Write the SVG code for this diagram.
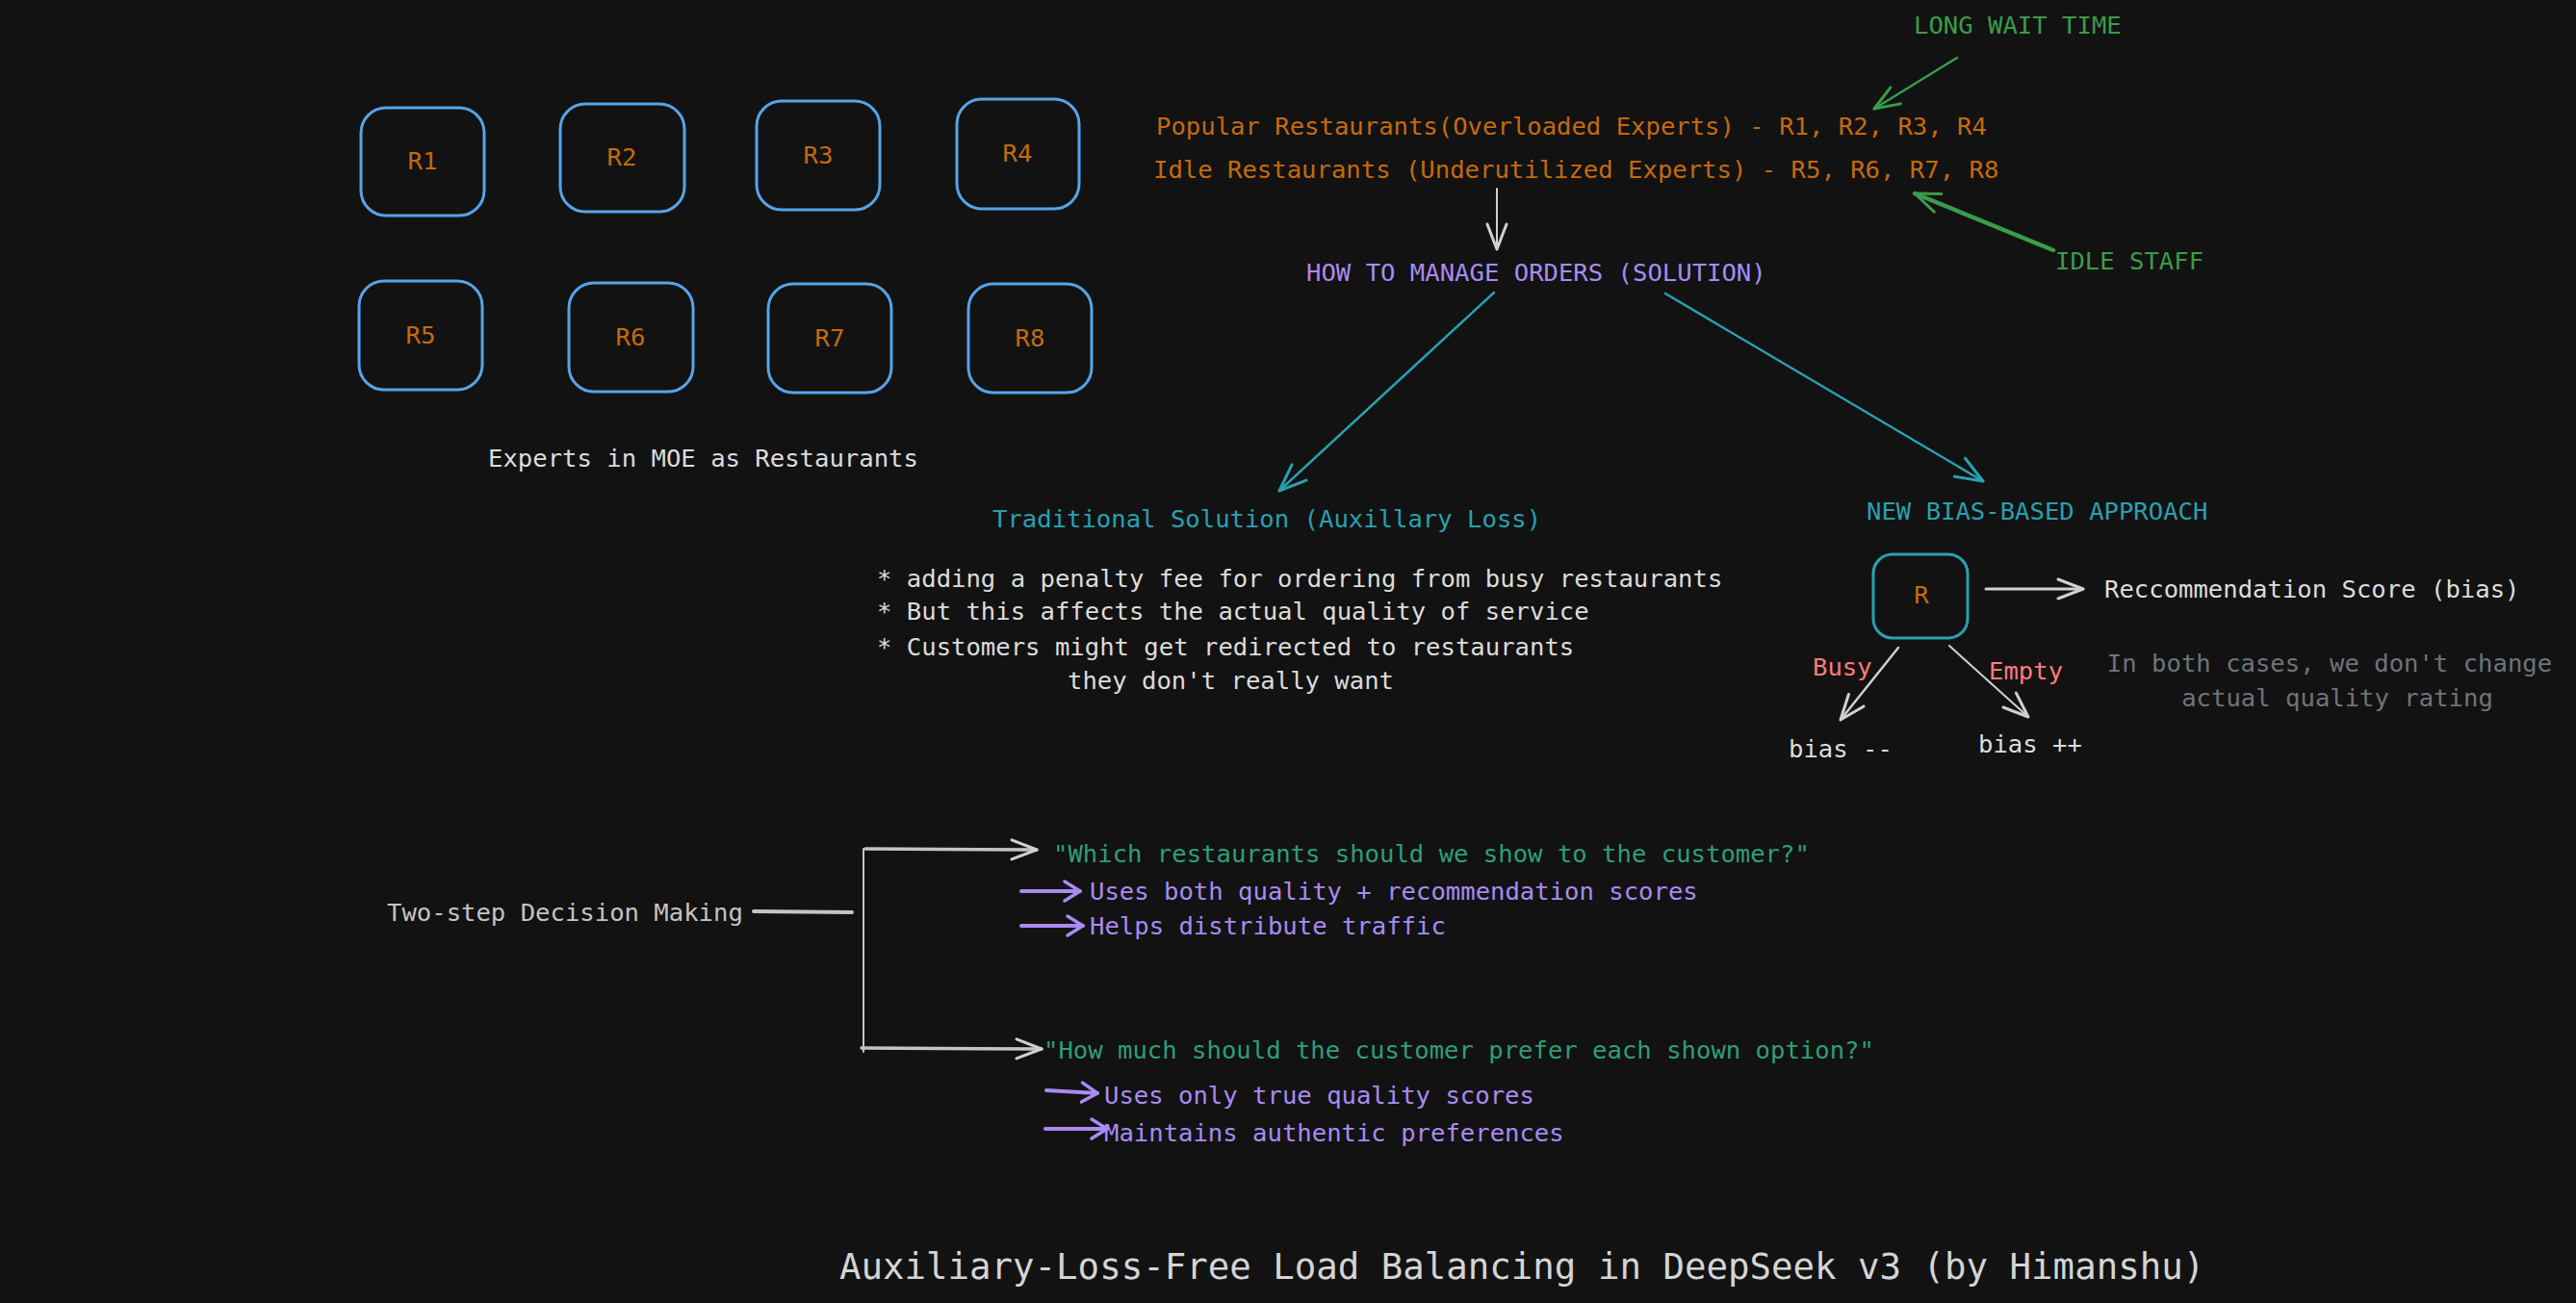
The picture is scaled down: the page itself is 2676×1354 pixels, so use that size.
<svg xmlns="http://www.w3.org/2000/svg" width="2676" height="1354" viewBox="0 0 2676 1354">
<defs>
<style>
text{font-family:"DejaVu Sans Mono","Liberation Mono",monospace;font-size:25.6px}
.or{fill:#c46a0e}
.wh{fill:#dcdcdc}
.gy{fill:#6f747b}
.gn{fill:#3a9c4a}
.pu{fill:#a98bf2}
.te{fill:#2aa0b0}
.rd{fill:#ff7b7b}
.qg{fill:#2f9e79}
.box{fill:none;stroke:#55a4e8;stroke-width:3}
.tbox{fill:none;stroke:#2aa0b0;stroke-width:3}
.c{fill:none;stroke-linecap:round}
</style>
<marker id="aw" markerUnits="userSpaceOnUse" markerWidth="40" markerHeight="40" viewBox="-35 -20 40 40" refX="0" refY="0" orient="auto"><path d="M-26,-10 L0,0 L-26,10" fill="none" stroke="#d0d0d0" stroke-width="3" stroke-linecap="round" stroke-linejoin="round"/></marker>
<marker id="ag" markerUnits="userSpaceOnUse" markerWidth="40" markerHeight="40" viewBox="-35 -20 40 40" refX="0" refY="0" orient="auto"><path d="M-26,-10 L0,0 L-26,10" fill="none" stroke="#3a9c4a" stroke-width="3" stroke-linecap="round" stroke-linejoin="round"/></marker>
<marker id="at" markerUnits="userSpaceOnUse" markerWidth="40" markerHeight="40" viewBox="-35 -20 40 40" refX="0" refY="0" orient="auto"><path d="M-28,-11 L0,0 L-28,11" fill="none" stroke="#2aa0b0" stroke-width="3" stroke-linecap="round" stroke-linejoin="round"/></marker>
<marker id="ap" markerUnits="userSpaceOnUse" markerWidth="40" markerHeight="40" viewBox="-35 -20 40 40" refX="0" refY="0" orient="auto"><path d="M-16,-10 L0,0 L-16,10" fill="none" stroke="#a98bf2" stroke-width="3.5" stroke-linecap="round" stroke-linejoin="round"/></marker>
</defs>
<rect width="2676" height="1354" fill="#121212"/>

<g id="R1"><rect class="box" x="375" y="112" width="128" height="112" rx="26"/><text class="or" x="439" y="176" text-anchor="middle">R1</text></g>
<g id="R2"><rect class="box" x="582" y="108" width="129" height="112" rx="26"/><text class="or" x="646" y="172" text-anchor="middle">R2</text></g>
<g id="R3"><rect class="box" x="786" y="105" width="128" height="113" rx="26"/><text class="or" x="850" y="170" text-anchor="middle">R3</text></g>
<g id="R4"><rect class="box" x="994" y="103" width="127" height="114" rx="26"/><text class="or" x="1057" y="168" text-anchor="middle">R4</text></g>
<g id="R5"><rect class="box" x="373" y="292" width="128" height="113" rx="26"/><text class="or" x="437" y="357" text-anchor="middle">R5</text></g>
<g id="R6"><rect class="box" x="591" y="294" width="129" height="113" rx="26"/><text class="or" x="655" y="359" text-anchor="middle">R6</text></g>
<g id="R7"><rect class="box" x="798" y="295" width="128" height="113" rx="26"/><text class="or" x="862" y="360" text-anchor="middle">R7</text></g>
<g id="R8"><rect class="box" x="1006" y="295" width="128" height="113" rx="26"/><text class="or" x="1070" y="360" text-anchor="middle">R8</text></g>

<g id="experts-label"><text class="wh" x="507" y="485">Experts in MOE as Restaurants</text></g>

<g id="long-wait"><text class="gn" x="1988" y="35">LONG WAIT TIME</text></g>
<g id="restaurants-list">
<text class="or" x="1201" y="140">Popular Restaurants(Overloaded Experts) - R1, R2, R3, R4</text>
<text class="or" x="1198" y="185">Idle Restaurants (Underutilized Experts) - R5, R6, R7, R8</text>
</g>
<g id="idle-staff"><text class="gn" x="2135" y="280">IDLE STAFF</text></g>
<g id="how-to"><text class="pu" x="1357" y="292">HOW TO MANAGE ORDERS (SOLUTION)</text></g>

<g id="traditional"><text class="te" x="1031" y="548">Traditional Solution (Auxillary Loss)</text></g>
<g id="traditional-notes">
<text class="wh" x="911" y="610">* adding a penalty fee for ordering from busy restaurants</text>
<text class="wh" x="911" y="644">* But this affects the actual quality of service</text>
<text class="wh" x="911" y="681">* Customers might get redirected to restaurants</text>
<text class="wh" x="1109" y="716">they don't really want</text>
</g>

<g id="new-approach"><text class="te" x="1939" y="540">NEW BIAS-BASED APPROACH</text></g>
<g id="R"><rect class="tbox" x="1946" y="576" width="98" height="87" rx="20"/><text class="or" x="1996" y="627" text-anchor="middle">R</text></g>
<g id="rec-score"><text class="wh" x="2186" y="621">Reccommendation Score (bias)</text></g>
<g id="busy"><text class="rd" x="1883" y="702">Busy</text></g>
<g id="empty"><text class="rd" x="2066" y="706">Empty</text></g>
<g id="bias-minus"><text class="wh" x="1858" y="787">bias --</text></g>
<g id="bias-plus"><text class="wh" x="2055" y="782">bias ++</text></g>
<g id="both-cases">
<text class="gy" x="2420" y="698" text-anchor="middle">In both cases, we don't change</text>
<text class="gy" x="2428" y="734" text-anchor="middle">actual quality rating</text>
</g>

<g id="two-step"><text style="fill:#c4c4c4" x="402" y="957">Two-step Decision Making</text></g>
<g id="step1">
<text class="qg" x="1094" y="896">"Which restaurants should we show to the customer?"</text>
<text class="pu" x="1132" y="935">Uses both quality + recommendation scores</text>
<text class="pu" x="1132" y="971">Helps distribute traffic</text>
</g>
<g id="step2">
<text class="qg" x="1084" y="1100">"How much should the customer prefer each shown option?"</text>
<text class="pu" x="1147" y="1147">Uses only true quality scores</text>
<text class="pu" x="1147" y="1186">Maintains authentic preferences</text>
</g>

<g id="title"><text style="fill:#d4d4d4;font-size:37.4px" x="872" y="1329">Auxiliary-Loss-Free Load Balancing in DeepSeek v3 (by Himanshu)</text></g>

<g id="connectors">
<path class="c" d="M2033,60 L1947,113" stroke="#3a9c4a" stroke-width="2.5" marker-end="url(#ag)"/>
<path class="c" d="M2133,260 L1989,201" stroke="#3a9c4a" stroke-width="4.5" marker-end="url(#ag)"/>
<path class="c" d="M1555,196 L1555,259" stroke="#d0d0d0" stroke-width="2" marker-end="url(#aw)"/>
<path class="c" d="M1552,304 L1329,510" stroke="#2aa0b0" stroke-width="2.5" marker-end="url(#at)"/>
<path class="c" d="M1730,305 L2060,500" stroke="#2aa0b0" stroke-width="2.5" marker-end="url(#at)"/>
<path class="c" d="M2063,612 L2164,612" stroke="#d0d0d0" stroke-width="3" marker-end="url(#aw)"/>
<path class="c" d="M1972,673 L1912,748" stroke="#d0d0d0" stroke-width="2.5" marker-end="url(#aw)"/>
<path class="c" d="M2025,671 L2107,745" stroke="#d0d0d0" stroke-width="2" marker-end="url(#aw)"/>
<path class="c" d="M783,947 L885,948" stroke="#c4c4c4" stroke-width="4"/>
<path class="c" d="M897,882 L897,1093" stroke="#c4c4c4" stroke-width="2"/>
<path class="c" d="M899,882 L1077,883" stroke="#c4c4c4" stroke-width="3.5" marker-end="url(#aw)"/>
<path class="c" d="M895,1089 L1082,1090" stroke="#c4c4c4" stroke-width="3.5" marker-end="url(#aw)"/>
<path class="c" d="M1061,926 L1122,926" stroke="#a98bf2" stroke-width="4" marker-end="url(#ap)"/>
<path class="c" d="M1061,962 L1125,962" stroke="#a98bf2" stroke-width="4" marker-end="url(#ap)"/>
<path class="c" d="M1087,1133 L1140,1136" stroke="#a98bf2" stroke-width="4" marker-end="url(#ap)"/>
<path class="c" d="M1086,1173 L1150,1173" stroke="#a98bf2" stroke-width="4" marker-end="url(#ap)"/>
</g>
</svg>
